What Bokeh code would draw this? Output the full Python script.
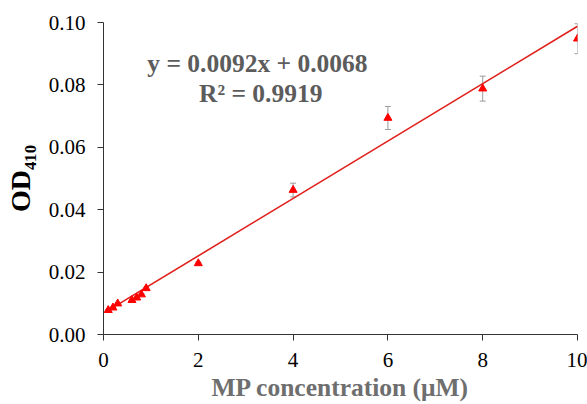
import numpy as np
from bokeh.plotting import figure
from bokeh.models import Range1d, Label, FixedTicker, Whisker, ColumnDataSource, PrintfTickFormatter
from bokeh.embed import file_html
from bokeh.resources import INLINE

conc = [0.1, 0.2, 0.3, 0.6, 0.7, 0.8, 0.9, 2, 4, 6, 8, 10]
od410 = [0.0078, 0.0086, 0.0099, 0.0110, 0.0118, 0.0128, 0.0148, 0.0228, 0.0463, 0.0694, 0.0788, 0.0948]
err = [0.0002, 0.0002, 0.0002, 0.0003, 0.0003, 0.0003, 0.0003, 0.0004, 0.0022, 0.0037, 0.0040, 0.0048]
slope = 0.0092
intercept = 0.0068
fit_x = [0.1, 10]
x_ticks = [0, 2, 4, 6, 8, 10]
y_ticks = [0.0, 0.02, 0.04, 0.06, 0.08, 0.10]

SERIF = "Liberation Serif"

p = figure(width=587, height=404, output_backend="svg", toolbar_location=None,
           x_range=Range1d(0, 10), y_range=Range1d(0, 0.10),
           min_border_left=103, min_border_right=10, min_border_top=22, min_border_bottom=66)
p.outline_line_color = None
p.xgrid.grid_line_color = None
p.ygrid.grid_line_color = None

lower = [v - e for v, e in zip(od410, err)]
upper = [v + e for v, e in zip(od410, err)]
src = ColumnDataSource(dict(x=conc, y=od410, lower=lower, upper=upper))
wh = Whisker(base="x", lower="lower", upper="upper", source=src,
             line_color="#9a9a9a", line_width=1)
wh.upper_head.size = 6
wh.lower_head.size = 6
wh.upper_head.line_color = "#9a9a9a"
wh.lower_head.line_color = "#9a9a9a"
p.add_layout(wh)

fit_y = [slope * x + intercept for x in fit_x]
p.line(fit_x, fit_y, line_color="#e0201b", line_width=1.6)
p.scatter("x", "y", source=src, marker="triangle", size=8, fill_color="#ff0000", line_color="#ff0000")

p.axis.axis_line_color = "#333333"
p.axis.major_tick_line_color = "#333333"
p.axis.major_tick_in = 0
p.axis.major_tick_out = 6
p.axis.minor_tick_line_color = None
p.axis.major_label_text_font = SERIF
p.axis.major_label_text_font_size = "21px"
p.axis.major_label_text_color = "#000000"

p.xaxis.ticker = FixedTicker(ticks=x_ticks)
p.yaxis.ticker = FixedTicker(ticks=y_ticks)
p.yaxis.formatter = PrintfTickFormatter(format="%.2f")
p.yaxis.major_label_standoff = 12
p.xaxis.major_label_standoff = 12

p.xaxis.axis_label = "MP concentration (\u03bcM)"
p.xaxis.axis_label_text_font = SERIF
p.xaxis.axis_label_text_font_style = "bold"
p.xaxis.axis_label_text_font_size = "25.5px"
p.xaxis.axis_label_text_color = "#6e6e6e"
p.xaxis.axis_label_standoff = 3

p.yaxis.axis_label = "OD\u2084\u2081\u2080"
p.yaxis.axis_label_text_font = SERIF
p.yaxis.axis_label_text_font_style = "bold"
p.yaxis.axis_label_text_font_size = "28px"
p.yaxis.axis_label_text_color = "#000000"
p.yaxis.axis_label_standoff = 10

p.add_layout(Label(x=0.924, y=0.0869, text="y = 0.0092x + 0.0068", text_font=SERIF,
                   text_font_style="bold", text_font_size="25.5px", text_color="#5c5c5c",
                   text_align="left", text_baseline="alphabetic"))
p.add_layout(Label(x=3.317, y=0.0774, text="R\u00b2 = 0.9919", text_font=SERIF,
                   text_font_style="bold", text_font_size="25.5px", text_color="#5c5c5c",
                   text_align="center", text_baseline="alphabetic"))

open("out.html", "w").write(file_html(p, INLINE))
